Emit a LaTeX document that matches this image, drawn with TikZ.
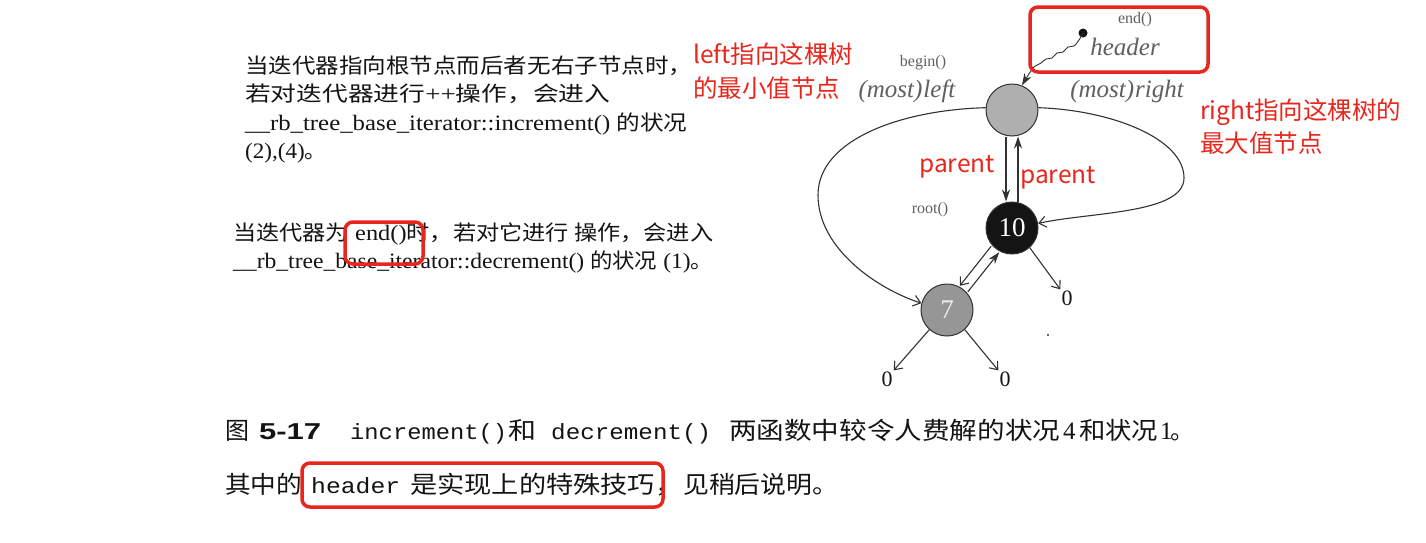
\documentclass[tikz,border=0pt]{standalone}
\usepackage{fontspec}
\setmainfont{Liberation Serif}
\setsansfont{Liberation Sans}
\setmonofont{Liberation Mono}
\newfontfamily\cjk[Scale=0.95]{Noto Sans CJK SC}
\newfontfamily\redfont{Noto Sans CJK SC}
\newfontfamily\capcjk{Noto Sans CJK SC}
\usetikzlibrary{arrows.meta,calc}
\definecolor{annot}{RGB}{232,38,28}
\definecolor{ink}{RGB}{20,20,20}
\definecolor{lab}{RGB}{95,95,95}
\definecolor{edge}{RGB}{50,50,50}
\definecolor{hdrgray}{RGB}{175,175,175}
\definecolor{sevgray}{RGB}{150,150,150}
\newcommand\zh[1]{{\cjk #1}}
\newcommand\fitw[2]{\resizebox{#1}{\height}{#2}}
\begin{document}
\begin{tikzpicture}[x=1pt,y=-1pt,
  booktext/.style={anchor=base west, inner sep=0, text=ink, font=\fontsize{22}{24}\selectfont},
  captext/.style={anchor=base west, inner sep=0, text=ink, font=\capcjk\fontsize{24}{26}\selectfont},
  capdigit/.style={anchor=base west, inner sep=0, text=ink, font=\rmfamily\fontsize{25}{27}\selectfont},
  capmono/.style={anchor=base west, inner sep=0, text=ink, font=\ttfamily\fontsize{22}{24}\selectfont},
  redbox/.style={draw=annot, line width=3.5pt, rounded corners=8pt},
  annot/.style={anchor=base west, inner sep=0, text=annot, font={\redfont\fontsize{24.5}{28}\selectfont}},
  rbnode/.style={circle, draw=edge, line width=1pt, minimum size=52pt, inner sep=0},
  lbl/.style={text=lab, inner sep=0, font=\fontsize{16}{18}\selectfont},
  itl/.style={text=lab, inner sep=0, font=\itshape\fontsize{25}{28}\selectfont},
  zero/.style={text=ink, inner sep=1pt, font=\fontsize{22}{24}\selectfont},
  edgeline/.style={draw=edge, line width=1.1pt},
  openhead/.style={-{Straight Barb[length=7pt,width=11pt]}},
  fullhead/.style={-{Stealth[length=12pt,width=8pt]}}
]
\fill[white] (0,0) rectangle (1426,542);
\useasboundingbox (0,0) rectangle (1426,542);

% ---- left text block ----
\node[booktext] (t1) at (245,73) {\fitw{447pt}{\zh{当迭代器指向根节点而后者无右子节点时，}}};
\node[booktext] (t2) at (245,101) {\fitw{365pt}{\zh{若对迭代器进行}++\zh{操作，会进入}}};
\node[booktext] (t3) at (245,130) {\fitw{442pt}{\_\_rb\_tree\_base\_iterator::increment() \zh{的状况}}};
\node[booktext] (t4) at (245,158) {\scalebox{1.05}[1]{(2),(4)\zh{。}}};
\node[booktext] (t5) at (233,240) {\fitw{480pt}{\zh{当迭代器为} end()\zh{时，若对它进行 操作，会进入}}};
\node[booktext] (t6) at (233,268) {\fitw{480pt}{\_\_rb\_tree\_base\_iterator::decrement() \zh{的状况} (1)\zh{。}}};
\draw[redbox] (345,222) rectangle (423,264);

% ---- caption ----
\node[captext] (c1) at (225,439) {图};
\node[captext, font=\sffamily\bfseries\fontsize{23}{25}\selectfont] (c2) at (259,439) {\fitw{62pt}{5-17}};
\node[capmono] (c3) at (350,439) {\fitw{157pt}{increment()}};
\node[captext] (c4) at (508,439) {\fitw{28pt}{和}};
\node[capmono] (c5) at (551,439) {\fitw{160pt}{decrement()}};
\node[captext] (c6) at (729,439) {\fitw{331pt}{两函数中较令人费解的状况}};
\node[capdigit] (c7) at (1063,439) {4};
\node[captext] (c8) at (1079,439) {\fitw{79pt}{和状况}};
\node[capdigit] (c9) at (1160,439) {1};
\node[captext] (c10) at (1170,439) {。};

\node[captext] (d1) at (225,493) {\fitw{77pt}{其中的}};
\node[capmono] (d2) at (311,493) {\fitw{89pt}{header}};
\node[captext] (d3) at (410,493) {\fitw{272pt}{是实现上的特殊技巧，}};
\node[captext] (d4) at (683,493) {\fitw{155pt}{见稍后说明。}};
\draw[redbox] (302,463) rectangle (663,507);

% ---- tree ----
\node[rbnode, fill=hdrgray] (hdr) at (1012,110) {};
\node[rbnode, fill=ink, text=white, font=\fontsize{27}{28}\selectfont] (root) at (1012,228) {10};
\node[rbnode, fill=sevgray, text=white!85!gray, font=\fontsize{27}{28}\selectfont] (n7) at (947,310) {7};
\node[zero] (z1) at (1067,298) {0};
\node[zero] (z2) at (887,379) {0};
\node[zero] (z3) at (1005,379) {0};
\fill[edge] (1048,335) circle (1.2);

\node[lbl] (lend) at (1135,20) {end()};
\node[itl] (lhdr) at (1125,47) {header};
\node[lbl] (lbeg) at (923,63) {begin()};
\node[itl] (lleft) at (907,91) {(most)\kern1pt left};
\node[itl] (lright) at (1127,91) {(most)\kern1pt right};
\node[lbl] (lroot) at (930,210) {root()};

\coordinate (dot) at (1083,33);
\fill[ink] (dot) circle (4.5);
\draw[edgeline, line width=0.9pt, fullhead] plot[smooth] coordinates {(dot) (1079,40) (1074,46) (1068,47) (1063,52) (1057,53) (1052,58) (1046,59) (1041,63) (1034,67) (1027,77) (hdr.68)};

\draw[edgeline, fullhead] ([xshift=-6pt]hdr.south) -- ([xshift=-6pt]root.north);
\draw[edgeline, fullhead] ([xshift=6pt]root.north) -- ([xshift=6pt]hdr.south);

\draw[edgeline, openhead] ($(root)!27pt!(n7)+(-4,-3)$) -- ($(n7)!27pt!(root)+(-4,-3)$);
\draw[edgeline, fullhead] ($(n7)!27pt!(root)+(4,3)$) -- ($(root)!27pt!(n7)+(4,3)$);
\draw[edgeline, openhead] (root.-48) -- (z1.north west);
\draw[edgeline, openhead] (n7.-132) -- (z2.north east);
\draw[edgeline, openhead] (n7.-48) -- (z3.north west);

\draw[edgeline, openhead] (hdr.175) .. controls (900,110) and (818,140) .. (818,195) .. controls (818,250) and (880,290) .. (n7.165);
\draw[edgeline, openhead] (hdr.5) .. controls (1110,110) and (1184,138) .. (1184,178) .. controls (1184,214) and (1090,212) .. (root.10);

\draw[redbox] (1030,7) rectangle (1208,72);

% ---- red annotations ----
\node[annot] (a1) at (693,63) {left指向这棵树};
\node[annot] (a2) at (693,97) {的最小值节点};
\node[annot] (a3) at (1200,119) {right指向这棵树的};
\node[annot] (a4) at (1200,152) {最大值节点};
\node[annot] (p1) at (919,172) {parent};
\node[annot] (p2) at (1020,183) {parent};
\end{tikzpicture}
\end{document}
